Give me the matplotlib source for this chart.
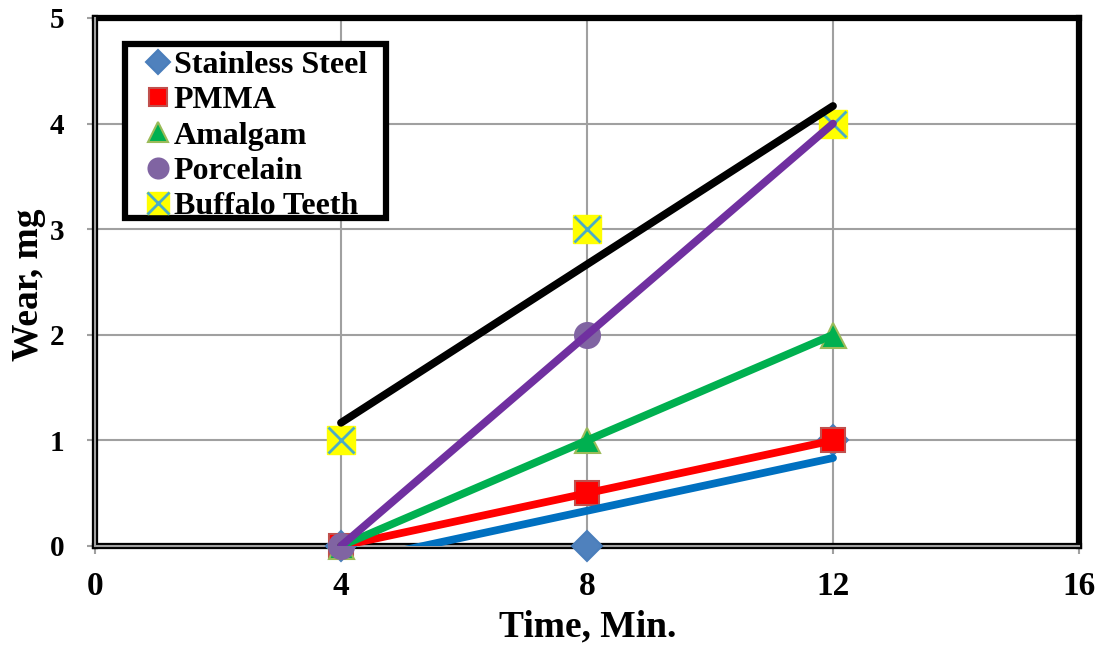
import numpy as np
import matplotlib

matplotlib.use("Agg")
import matplotlib.pyplot as plt
from matplotlib.patches import Rectangle

plt.rcParams["font.family"] = ["Liberation Serif", "DejaVu Serif"]
plt.rcParams["font.weight"] = "bold"

# wear test data (mg)
time_min = [4, 8, 12]
stainless_steel = [0, 0, 1]
pmma = [0, 0.5, 1]
amalgam = [0, 1, 2]
porcelain = [0, 2, 4]
buffalo_teeth = [1, 3, 4]

x_ticks = [0, 4, 8, 12, 16]
y_ticks = [0, 1, 2, 3, 4, 5]

series = [
    ("Stainless Steel", stainless_steel, "D", "#4F81BD", "#4A7EBB", 15, "#0070C0"),
    ("PMMA", pmma, "s", "#FF0000", "#C0504D", 17, "#FF0000"),
    ("Amalgam", amalgam, "^", "#00B050", "#9BBB59", 18, "#00B050"),
    ("Porcelain", porcelain, "o", "#8064A2", "#8064A2", 18, "#7030A0"),
]

W, H = 1101, 654
fig = plt.figure(figsize=(W / 100, H / 100), dpi=100)
ax = fig.add_axes([95 / W, 108 / H, 984 / W, 528 / H])

handles = []
x = np.array(time_min, dtype=float)
for name, ys, mk, fc, ec, ms, lc in series:
    h, = ax.plot(x, ys, ls="none", marker=mk, ms=ms, mfc=fc, mec=ec, mew=1.5,
                 zorder=3, clip_on=False, label=name)
    handles.append(h)
    k, b = np.polyfit(x, ys, 1)
    ax.plot([x[0], x[-1]], np.polyval([k, b], [x[0], x[-1]]), color=lc, lw=5.6,
            solid_capstyle="round", zorder=4)

# buffalo teeth: yellow square with a blue cross on top
sq, = ax.plot(x, buffalo_teeth, ls="none", marker="s", ms=20, mfc="#FFFF00",
              mec="#FFFF00", zorder=3, clip_on=False)
cr, = ax.plot(x, buffalo_teeth, ls="none", marker="x", ms=19, mec="#4BACC6",
              mew=2, zorder=3.1, clip_on=False)
handles.append((sq, cr))
k, b = np.polyfit(x, buffalo_teeth, 1)
ax.plot([x[0], x[-1]], np.polyval([k, b], [x[0], x[-1]]), color="black", lw=5.6,
        solid_capstyle="round", zorder=4)

ax.set_xlim(0, 16)
ax.set_ylim(0, 5)
ax.set_xticks(x_ticks)
ax.set_yticks(y_ticks)
ax.grid(True, color="#A0A0A0", lw=1.5, zorder=0)
ax.set_axisbelow(True)
ax.tick_params(axis="both", direction="out", length=6, width=1.5, color="#A0A0A0")
ax.tick_params(axis="x", labelsize=24, pad=12)
ax.tick_params(axis="y", labelsize=21, pad=16)
for s in ax.spines.values():
    s.set_linewidth(4.5)
    s.set_color("black")
ax.axhline(0, color="#A0A0A0", lw=1.5, zorder=2.6, clip_on=False)
ax.axvline(0, color="#A0A0A0", lw=1.5, zorder=2.6, clip_on=False)

fig.text(588 / W, 1 - 627 / H, "Time, Min.", fontsize=27, fontweight="bold",
         ha="center", va="center")
fig.text(28 / W, 1 - 285 / H, "Wear, mg", fontsize=27, fontweight="bold",
         ha="center", va="center", rotation=90)

# legend box drawn separately, Excel pads it wider on the right
fig.patches.append(Rectangle((125 / W, 1 - 218 / H), 261 / W, 174 / H,
                             transform=fig.transFigure, facecolor="white",
                             edgecolor="black", lw=4.5, zorder=5))
names = [s[0] for s in series] + ["Buffalo Teeth"]
leg = fig.legend(handles, names, loc="upper left", bbox_to_anchor=(145 / W, 1 - 51 / H),
                 borderaxespad=0, borderpad=0, frameon=False, fontsize=23,
                 handlelength=0.8, handletextpad=0.1, labelspacing=0.18,
                 markerscale=0.8)
leg.set_zorder(6)

fig.savefig("out.png", dpi=100)
